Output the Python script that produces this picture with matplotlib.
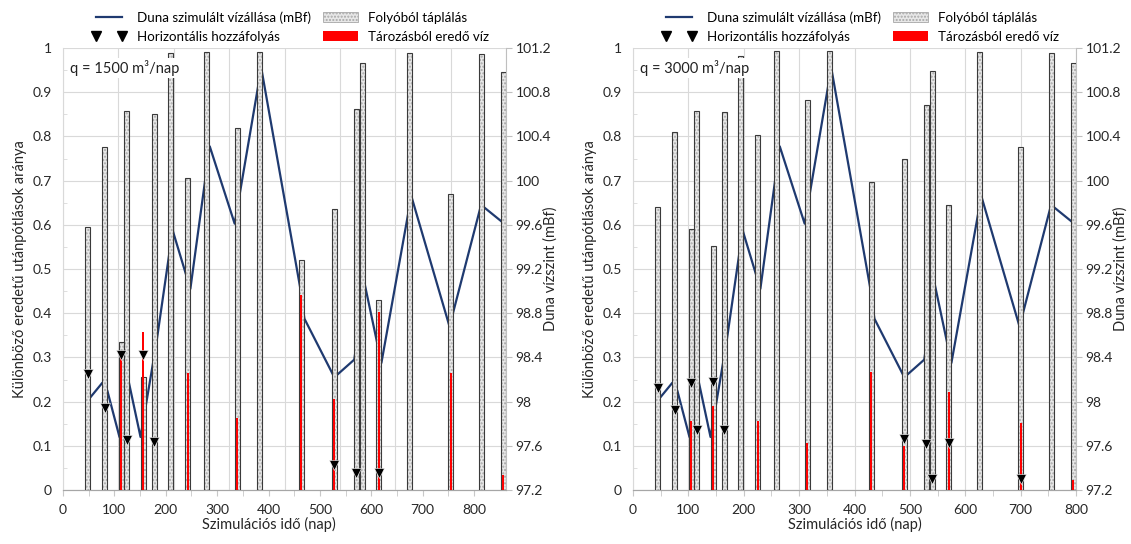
import numpy as np
import matplotlib.pyplot as plt
from matplotlib.lines import Line2D
from matplotlib.patches import Patch
from matplotlib.ticker import MultipleLocator, FuncFormatter

plt.rcParams['font.family'] = ['Lato', 'DejaVu Sans']

# Data
# ------------------------------
bar_days = [45, 75, 105, 115, 145, 165, 195, 225, 260, 315,
            355, 430, 490, 530, 540, 570, 625, 700, 755, 795]

river_1500 = [0.594, 0.777, 0.334, 0.858, 0.256, 0.851, 0.988, 0.705, 0.99, 0.82,
              0.992, 0.52, 0.635, 0.863, 0.965, 0.43, 0.988, 0.67, 0.986, 0.946]
storage_1500 = [0, 0, 0.30, 0, 0.357, 0, 0, 0.264, 0, 0.162,
                0, 0.441, 0.207, 0, 0, 0.403, 0, 0.264, 0, 0.034]

river_3000 = [0.641, 0.811, 0.590, 0.858, 0.553, 0.856, 0.982, 0.803, 0.993, 0.882,
              0.993, 0.696, 0.750, 0.871, 0.949, 0.645, 0.992, 0.775, 0.989, 0.965]
storage_3000 = [0, 0, 0.155, 0, 0.19, 0, 0, 0.155, 0, 0.106,
                0, 0.268, 0.10, 0, 0, 0.222, 0, 0.151, 0, 0.023]

hor_days_1500 = [45, 75, 105, 115, 145, 165, 490, 530, 570]
hor_1500 = [0.262, 0.185, 0.305, 0.113, 0.305, 0.108, 0.056, 0.038, 0.038]

hor_days_3000 = [45, 75, 105, 115, 145, 165, 490, 530, 540, 570, 700]
hor_3000 = [0.23, 0.181, 0.241, 0.136, 0.245, 0.136, 0.115, 0.103, 0.026, 0.106, 0.024]

level_days = [48, 71, 80, 102, 117, 140, 168, 198, 230, 265, 310,
              358, 428, 436, 490, 526, 545, 575, 629, 698, 755, 792]
level = [98.03, 98.17, 98.10, 97.68, 98.22, 97.68, 98.51, 99.55, 99.02, 100.31, 99.61,
         101.02, 99.04, 98.75, 98.22, 98.38, 99.06, 98.35, 99.86, 98.68, 99.78, 99.63]

time_ticks = [0, 100, 200, 300, 400, 500, 600, 700, 800]

level_min, level_max = 97.2, 101.2

GRID = '#d9d9d9'
NAVY = '#1f3a70'
TXT = '#262626'
FS = 10


def to_frac(v):
    return (np.asarray(v) - level_min) / (level_max - level_min)


def to_level(f):
    return level_min + np.asarray(f) * (level_max - level_min)


def draw_panel(ax, river, storage, hor_days, hor, q_text, x_stretch=1.0):
    ax.set_xlim(0, 800)
    ax.set_ylim(0, 1)

    # Grid (follows the data axis)
    ax.yaxis.set_major_locator(MultipleLocator(0.1))
    ax.yaxis.set_minor_locator(MultipleLocator(0.05))
    ax.xaxis.set_major_locator(MultipleLocator(100))
    ax.xaxis.set_minor_locator(MultipleLocator(50))
    ax.grid(True, which='major', color=GRID, lw=0.8, zorder=0)
    ax.set_axisbelow(True)

    # Danube level (drawn behind the bars)
    ax.plot(level_days, to_frac(level), color=NAVY, lw=1.6, zorder=2)

    # River recharge bars
    ax.bar(bar_days, river, width=9, color='#e8e8e8', edgecolor='#a8a8a8',
           hatch='.....', lw=0, zorder=3)
    ax.bar(bar_days, river, width=9, fill=False, edgecolor='#3a3a3a',
           lw=0.8, zorder=4)

    # Storage bars
    ax.bar(bar_days, storage, width=3.5, color='#ff0000', lw=0, zorder=5)

    # Horizontal inflow
    ax.plot(hor_days, hor, 'v', color='black', ms=7, mec='white',
            mew=0.4, ls='none', zorder=6)

    ax.text(0.015, 0.955, q_text, transform=ax.transAxes, fontsize=10.5,
            va='center', ha='left', color='#222222', zorder=7,
            bbox=dict(facecolor='white', edgecolor='none', pad=1.5))

    # Axis styling
    for s in ['top', 'right']:
        ax.spines[s].set_visible(False)
    ax.spines['left'].set_color(GRID)
    ax.spines['bottom'].set_color('#a6a6a6')
    ax.tick_params(axis='y', which='major', length=0, labelsize=FS,
                   labelcolor=TXT, pad=8)
    ax.tick_params(axis='y', which='minor', direction='in', length=3,
                   color=GRID)
    ax.yaxis.set_major_formatter(FuncFormatter(lambda v, p: f'{v:g}'))
    ax.set_ylabel('Különböző eredetű utánpótlások aránya', fontsize=10.5,
                  color=TXT, labelpad=4)

    # Time axis labels (left panel's label axis is narrower than its data axis)
    ax.tick_params(axis='x', which='both', length=0, labelbottom=False)
    secx = ax.secondary_xaxis('bottom', functions=(lambda d: d * x_stretch,
                                                   lambda t: t / x_stretch))
    secx.set_xticks(time_ticks)
    secx.set_xticks(np.arange(0, 801, 50), minor=True)
    secx.spines['bottom'].set_color('#a6a6a6')
    secx.tick_params(axis='x', which='both', direction='out', length=4,
                     color='#c8c8c8', labelsize=FS, labelcolor=TXT, pad=6)
    secx.set_xlabel('Szimulációs idő (nap)', fontsize=10.5, labelpad=1,
                    color=TXT, x=0.5 / x_stretch)

    secy = ax.secondary_yaxis('right', functions=(to_level, to_frac))
    secy.set_yticks(np.arange(97.2, 101.21, 0.4))
    secy.yaxis.set_major_formatter(FuncFormatter(lambda v, p: f'{round(v, 1):g}'))
    secy.spines['right'].set_color('#bfbfbf')
    secy.tick_params(axis='y', length=4, color='#bfbfbf', labelsize=FS,
                     labelcolor=TXT, pad=3)
    ax.text(1.101, 0.5, 'Duna vízszint (mBf)', transform=ax.transAxes,
            rotation=90, ha='center', va='center', fontsize=10.5, color=TXT)

    handles = [
        Line2D([0], [0], color=NAVY, lw=1.6),
        Line2D([0], [0], marker='v', color='black', ls='none', ms=7),
        Patch(facecolor='#e8e8e8', edgecolor='#a8a8a8', hatch='.....', lw=0.6),
        Patch(facecolor='#ff0000', edgecolor='none'),
    ]
    labels = ['Duna szimulált vízállása (mBf)', 'Horizontális hozzáfolyás',
              'Folyóból táplálás', 'Tározásból eredő víz']
    ax.legend(handles, labels, ncol=2, loc='lower left',
              bbox_to_anchor=(0.065, 1.012), frameon=False, fontsize=9.6,
              numpoints=2, handlelength=2.6, handleheight=0.8,
              columnspacing=0.9, labelspacing=0.5, handletextpad=0.8,
              borderaxespad=0, borderpad=0)


fig = plt.figure(figsize=(11.31, 5.44), dpi=100)
ax1 = fig.add_axes([63 / 1131, 54 / 544, 443 / 1131, 442 / 544])
ax2 = fig.add_axes([633 / 1131, 54 / 544, 443 / 1131, 442 / 544])

draw_panel(ax1, river_1500, storage_1500, hor_days_1500, hor_1500,
           'q = 1500 m³/nap', x_stretch=443 / 411)
draw_panel(ax2, river_3000, storage_3000, hor_days_3000, hor_3000,
           'q = 3000 m³/nap')

fig.savefig('out.png', dpi=100)
